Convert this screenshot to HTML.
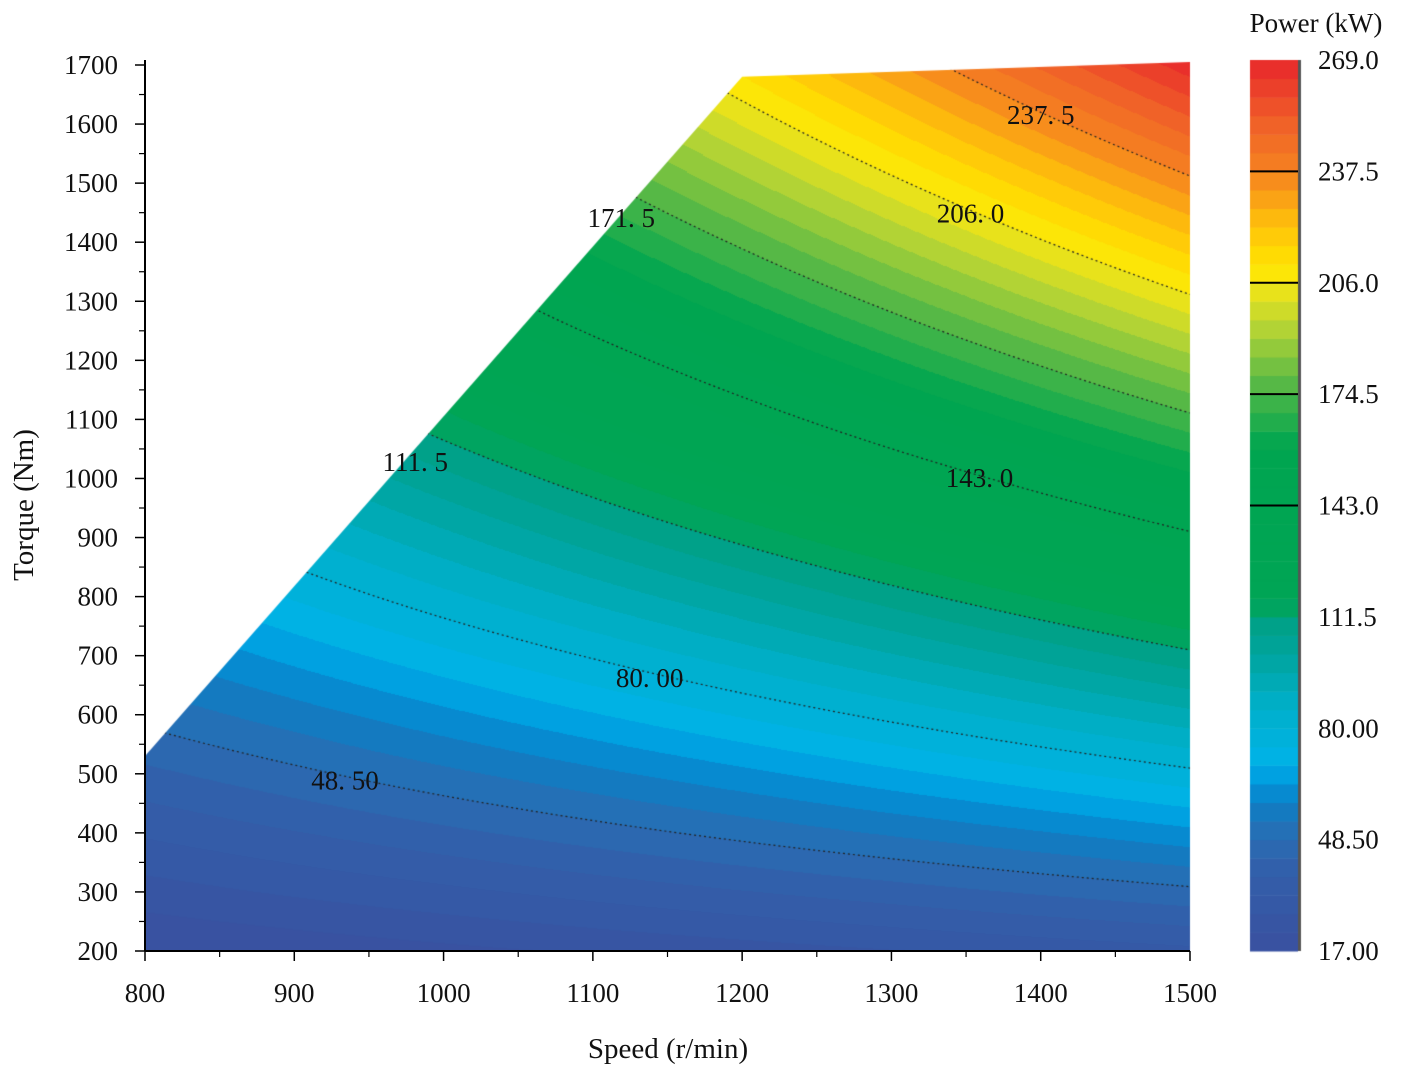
<!DOCTYPE html>
<html><head><meta charset="utf-8"><style>
html,body{margin:0;padding:0;background:#fff;}
#wrap{position:relative;width:1419px;height:1079px;font-family:"Liberation Serif",serif;}
canvas{position:absolute;left:0;top:0;}
svg{position:absolute;left:0;top:0;}
</style></head><body>
<div id="wrap">
<canvas id="cv" width="1419" height="1079"></canvas>
<svg id="sv" width="1419" height="1079"></svg>
</div>
<script>
// Data grid: speeds (r/min), torques (Nm), power (kW)
const speeds = [800,900,1000,1100,1200,1300,1400,1500];
const torques = [200,300,400,500,600,700,800,900,1000,1100,1200,1300,1400,1500,1600,1700];
const power = [
 [16.8,18.8,20.9,23.0,25.1,27.2,29.3,31.4],
 [25.1,28.3,31.4,34.6,37.7,40.8,44.0,47.1],
 [33.5,37.7,41.9,46.1,50.3,54.5,58.6,62.8],
 [41.9,47.1,52.4,57.6,62.8,68.1,73.3,78.5],
 [50.3,56.5,62.8,69.1,75.4,81.7,88.0,94.2],
 [58.6,66.0,73.3,80.6,88.0,95.3,102.6,110.0],
 [67.0,75.4,83.8,92.2,100.5,108.9,117.3,125.7],
 [75.4,84.8,94.2,103.7,113.1,122.5,131.9,141.4],
 [83.8,94.2,104.7,115.2,125.7,136.1,146.6,157.1],
 [92.2,103.7,115.2,126.7,138.2,149.8,161.3,172.8],
 [100.5,113.1,125.7,138.2,150.8,163.4,175.9,188.5],
 [108.9,122.5,136.1,149.8,163.4,177.0,190.6,204.2],
 [117.3,131.9,146.6,161.3,175.9,190.6,205.3,219.9],
 [125.7,141.4,157.1,172.8,188.5,204.2,219.9,235.6],
 [134.0,150.8,167.5,184.3,201.1,217.8,234.6,251.3],
 [142.4,160.2,178.0,195.8,213.6,231.4,249.2,267.0]
];
// Region boundary (speed, torque)
const boundary = [[800,200],[800,530],[1200,1680],[1500,1705],[1500,200]];
const levels = [48.5,80.0,111.5,143.0,174.5,206.0,237.5];
const levelLabels = ["48. 50","80. 00","111. 5","143. 0","171. 5","206. 0","237. 5"];
const labelSpeeds = [934,1138,981,1359,1119,1353,1400];
const labelTorques = [489,662,1028,1001,1441,1449,1615];
const xTicks = [800,900,1000,1100,1200,1300,1400,1500];
const yTicks = [200,300,400,500,600,700,800,900,1000,1100,1200,1300,1400,1500,1600,1700];
const cbTicks = [269.0,237.5,206.0,174.5,143.0,111.5,80.00,48.50,17.00];
const cbLabels = ["269.0","237.5","206.0","174.5","143.0","111.5","80.00","48.50","17.00"];

const X0=145,X1=1190,Y0=951,Y1=65;
const sx=n=>X0+(n-800)/(700)*(X1-X0);
const sy=t=>Y0-(t-200)/1500*(Y0-Y1);
const inv_x=px=>800+(px-X0)/(X1-X0)*700;
const inv_y=py=>200+(Y0-py)/(Y0-Y1)*1500;
function P(n,t){
  let i=Math.min(speeds.length-2,Math.max(0,Math.floor((n-speeds[0])/100)));
  let j=Math.min(torques.length-2,Math.max(0,Math.floor((t-torques[0])/100)));
  let u=(n-speeds[i])/(speeds[i+1]-speeds[i]), v=(t-torques[j])/(torques[j+1]-torques[j]);
  return power[j][i]*(1-u)*(1-v)+power[j][i+1]*u*(1-v)+power[j+1][i]*(1-u)*v+power[j+1][i+1]*u*v;
}
const stops=[[17,[58,80,160]],[40,[50,95,170]],[50,[40,110,180]],[58,[15,125,195]],[65,[0,150,220]],[70,[0,178,232]],[87,[0,175,200]],[100,[0,165,160]],[111.5,[0,160,130]],[115,[0,165,85]],[160,[0,165,80]],[168,[40,175,75]],[178,[90,185,70]],[195,[190,215,50]],[206,[245,230,20]],[210,[255,230,0]],[222,[255,195,10]],[237.5,[245,130,32]],[250,[240,100,40]],[269,[232,38,44]]];
const STEP=5.25;
function col(p){
  p=17+Math.floor((p-17)/STEP)*STEP+STEP/2;
  if(p<=stops[0][0])return stops[0][1];
  for(let k=1;k<stops.length;k++){if(p<=stops[k][0]){const a=stops[k-1],b=stops[k];const f=(p-a[0])/(b[0]-a[0]);return a[1].map((c,i)=>Math.round(c+(b[1][i]-c)*f));}}
  return stops[stops.length-1][1];
}
const cv=document.getElementById('cv'),ctx=cv.getContext('2d');
ctx.save();ctx.beginPath();boundary.forEach((b,i)=>{i?ctx.lineTo(sx(b[0]),sy(b[1])):ctx.moveTo(sx(b[0]),sy(b[1]));});ctx.closePath();ctx.clip();
for(let py=Y1-10;py<=Y0;py+=1){for(let px=X0;px<=X1;px+=2){const c=col(P(inv_x(px+1),inv_y(py+0.5)));ctx.fillStyle=`rgb(${c[0]},${c[1]},${c[2]})`;ctx.fillRect(px,py,2,1);}}
// contour lines
ctx.strokeStyle='#222';ctx.lineWidth=1.2;ctx.setLineDash([2,3]);
levels.forEach(L=>{ctx.beginPath();let started=false;
  for(let n=800;n<=1500;n+=2){
    let found=null;
    for(let t=200;t<1700;t+=2){const a=P(n,t),b=P(n,t+2);if((a-L)*(b-L)<=0&&a!==b){found=t+2*(L-a)/(b-a);break;}}
    if(found===null){started=false;continue;}
    if(!started){ctx.moveTo(sx(n),sy(found));started=true;}else ctx.lineTo(sx(n),sy(found));
  }ctx.stroke();});
ctx.restore();
// colorbar
const CB={x:1250,w:48,top:60,bot:951};
ctx.fillStyle='#555';ctx.fillRect(CB.x+CB.w,CB.top,3,CB.bot-CB.top);
for(let p=17;p<269;p+=STEP){const c=col(p+0.1);ctx.fillStyle=`rgb(${c[0]},${c[1]},${c[2]})`;const y1=CB.bot-(p-17)/252*(CB.bot-CB.top),y2=CB.bot-(p+STEP-17)/252*(CB.bot-CB.top);ctx.fillRect(CB.x,y2,CB.w,y1-y2+0.5);}

const NS='http://www.w3.org/2000/svg',sv=document.getElementById('sv');
function mk(tag,attrs,text){const e=document.createElementNS(NS,tag);for(const k in attrs)e.setAttribute(k,attrs[k]);if(text!==undefined)e.textContent=text;sv.appendChild(e);return e;}
// contour labels
levels.forEach((L,i)=>{
  const e=mk('text',{x:sx(labelSpeeds[i]),y:sy(labelTorques[i])+9,'font-size':27,'text-anchor':'middle',fill:'#111'},levelLabels[i]);
  
  });
// axes
let ax=mk('line',{x1:X0,y1:Y0,x2:X1,y2:Y0,stroke:'#000','stroke-width':2});

let ay=mk('line',{x1:X0,y1:Y0,x2:X0,y2:Y1-5,stroke:'#000','stroke-width':2});

xTicks.forEach((v,i)=>{mk('line',{x1:sx(v),y1:Y0,x2:sx(v),y2:Y0+10,stroke:'#000','stroke-width':1.5});
  if(i<xTicks.length-1)mk('line',{x1:sx(v+50),y1:Y0,x2:sx(v+50),y2:Y0+6,stroke:'#000','stroke-width':1.2});
  const e=mk('text',{x:sx(v),y:1002,'font-size':27,'text-anchor':'middle',fill:'#111'},String(v));
  });
yTicks.forEach((v,i)=>{mk('line',{x1:X0,y1:sy(v),x2:X0-10,y2:sy(v),stroke:'#000','stroke-width':1.5});
  if(i<yTicks.length-1)mk('line',{x1:X0,y1:sy(v+50),x2:X0-6,y2:sy(v+50),stroke:'#000','stroke-width':1.2});
  const e=mk('text',{x:118,y:sy(v)+9,'font-size':27,'text-anchor':'end',fill:'#111'},String(v));
  });
let xt=mk('text',{x:668,y:1058,'font-size':29,'text-anchor':'middle',fill:'#111'},'Speed (r/min)');

let yt=mk('text',{x:0,y:0,'font-size':29,'text-anchor':'middle',fill:'#111',transform:'translate(33,505) rotate(-90)'},'Torque (Nm)');

// colorbar ticks and labels
cbTicks.forEach((v,i)=>{const y=CB.bot-(v-17)/252*(CB.bot-CB.top);
  if(i>0&&i<cbTicks.length-1&&v>130)mk('line',{x1:CB.x,y1:y,x2:CB.x+CB.w,y2:y,stroke:'#000','stroke-width':2});
  const e=mk('text',{x:1318,y:y+9,'font-size':27,fill:'#111'},cbLabels[i]);
  });
let ct=mk('text',{x:1316,y:32,'font-size':27,'text-anchor':'middle',fill:'#111'},'Power (kW)');

</script>
</body></html>
